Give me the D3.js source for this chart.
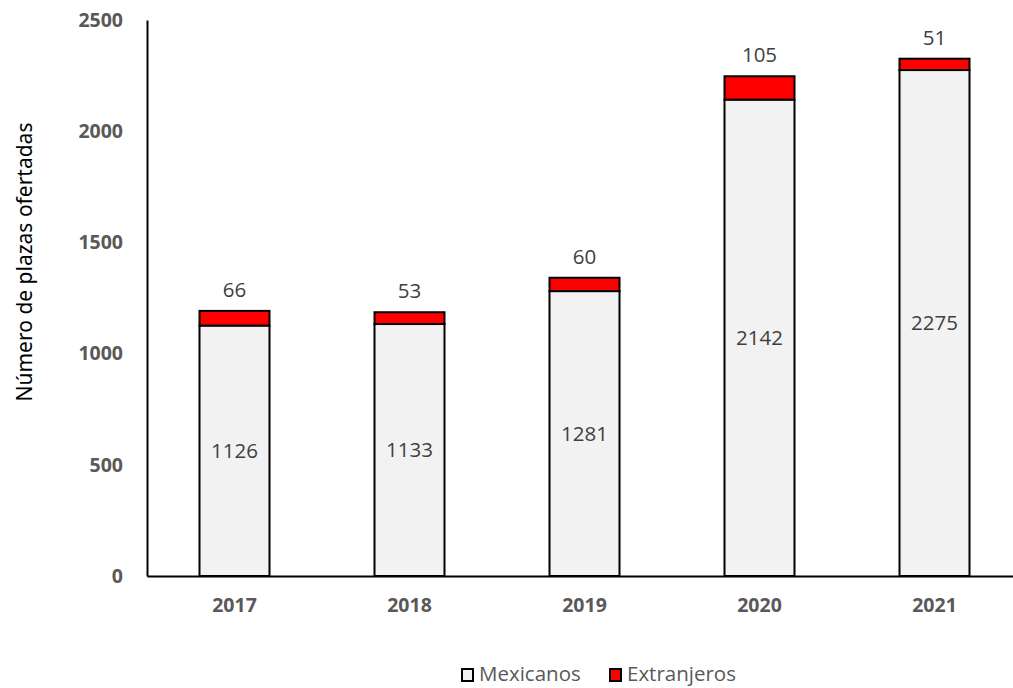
<!DOCTYPE html>
<html><head><meta charset="utf-8">
<script src="https://cdn.jsdelivr.net/npm/d3@7"></script>
<style>body{margin:0;background:#fff}</style>
</head><body>
<svg id="c" width="1013" height="688"></svg>
<script>
const years = ["2017","2018","2019","2020","2021"];
const mexicanos = [1126,1133,1281,2142,2275];
const extranjeros = [66,53,60,105,51];
const yTicks = [0,500,1000,1500,2000,2500];
const seriesNames = ["Mexicanos","Extranjeros"];
const colors = ["#f2f2f2","#ff0000"];

const svg = d3.select("#c");
const m = {l:147, r:-9, t:20, b:112};
const W = 1013, H = 688;
const x = d3.scaleBand().domain(years).range([m.l, W - m.r]).paddingInner(0.6).paddingOuter(0.3);
const y = d3.scaleLinear().domain([0,2500]).range([H - m.b, m.t]);

const rows = years.map((yr,i)=>({year:yr, Mexicanos:mexicanos[i], Extranjeros:extranjeros[i]}));
const stack = d3.stack().keys(seriesNames)(rows);

const g = svg.append("g");
stack.forEach((s,si)=>{
  g.selectAll(null).data(s).enter().append("rect")
    .attr("x", d=>x(d.data.year))
    .attr("width", x.bandwidth())
    .attr("y", d=>y(d[1]))
    .attr("height", d=>y(d[0])-y(d[1]))
    .attr("fill", colors[si])
    .attr("stroke","#000").attr("stroke-width",2);
});

const font = "'Open Sans', sans-serif";
g.selectAll(null).data(stack[0]).enter().append("text")
  .attr("x", d=>x(d.data.year)+x.bandwidth()/2)
  .attr("y", d=>(y(d[0])+y(d[1]))/2)
  .attr("dy","0.36em").attr("text-anchor","middle")
  .attr("font-family",font).attr("font-size",20.5).attr("fill","#404040")
  .text(d=>d.data.Mexicanos);
g.selectAll(null).data(stack[1]).enter().append("text")
  .attr("x", d=>x(d.data.year)+x.bandwidth()/2)
  .attr("y", d=>y(d[1])-14)
  .attr("text-anchor","middle")
  .attr("font-family",font).attr("font-size",20.5).attr("fill","#404040")
  .text(d=>d.data.Extranjeros);

const yAx = svg.append("g").attr("transform",`translate(${m.l},0)`)
  .call(d3.axisLeft(y).tickValues(yTicks).tickFormat(d3.format("d")).tickSize(0).tickPadding(24));
yAx.select(".domain").attr("stroke","#000").attr("stroke-width",2);
yAx.selectAll("text").attr("font-family",font).attr("font-weight","bold")
  .attr("font-size",19.5).attr("fill","#595959");

const xAx = svg.append("g").attr("transform",`translate(0,${H-m.b})`)
  .call(d3.axisBottom(x).tickSize(0).tickPadding(22));
xAx.select(".domain").attr("stroke","#000").attr("stroke-width",2);
xAx.selectAll("text").attr("font-family",font).attr("font-weight","bold")
  .attr("font-size",19.5).attr("fill","#595959");

svg.append("text").attr("transform","translate(32,262) rotate(-90)")
  .attr("text-anchor","middle").attr("font-family","'Noto Sans', sans-serif")
  .attr("font-size",21).attr("fill","#000").text("Número de plazas ofertadas");

const legX = [461, 609];
const leg = svg.append("g");
seriesNames.forEach((n,i)=>{
  leg.append("rect").attr("x",legX[i]+1).attr("y",669).attr("width",11).attr("height",12)
    .attr("fill",colors[i]).attr("stroke","#000").attr("stroke-width",2);
  leg.append("text").attr("x",legX[i]+18).attr("y",681)
    .attr("font-family",font).attr("font-size",20.5).attr("fill","#595959").text(n);
});
</script>
</body></html>
